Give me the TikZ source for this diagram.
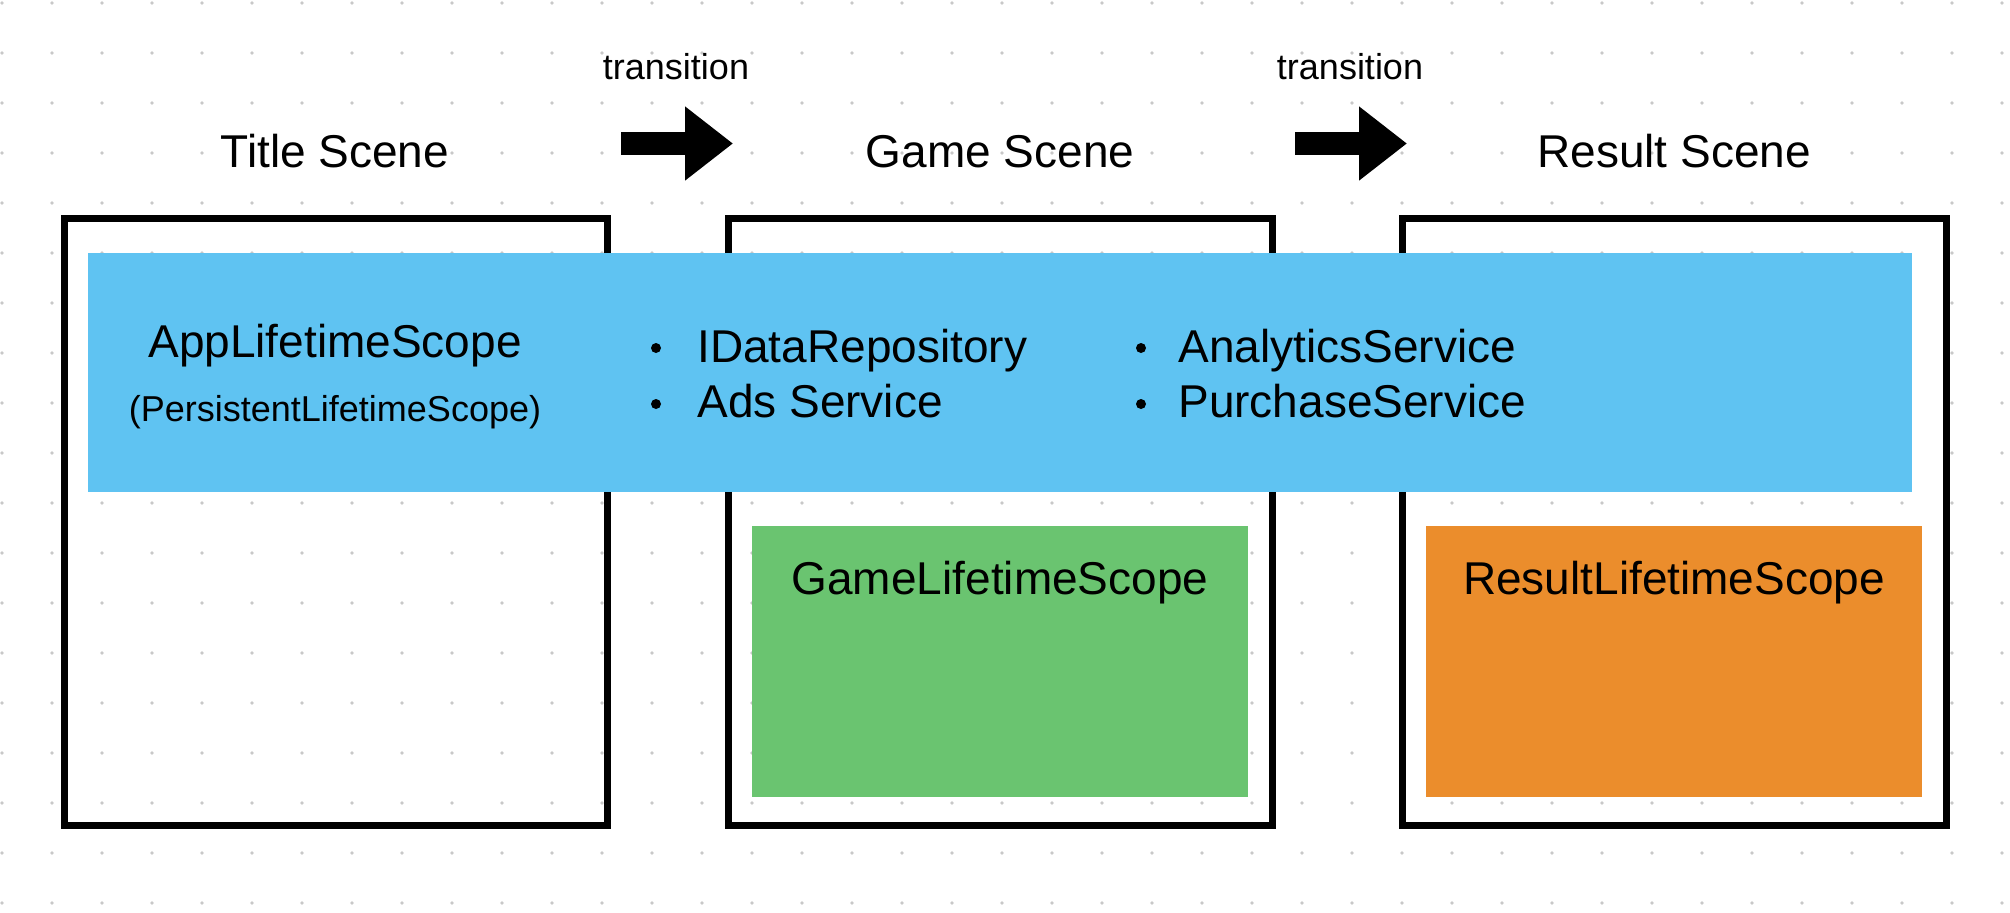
\documentclass[tikz,border=0pt]{standalone}
\usepackage{fontspec}
\setmainfont{Liberation Sans}
\usepackage{tikz}
\usetikzlibrary{arrows.meta}

\definecolor{appblue}{RGB}{95,195,242}
\definecolor{gamegreen}{RGB}{106,196,112}
\definecolor{resultorange}{RGB}{235,141,44}
\definecolor{griddot}{RGB}{200,200,200}

\tikzset{
    scenebox/.style={draw=black, line width=3.5pt},
    big/.style={inner sep=0pt, anchor=base, font=\fontsize{23}{27}\selectfont},
    small/.style={inner sep=0pt, anchor=base, font=\fontsize{18}{22}\selectfont},
    item/.style={big, anchor=base west},
    trans/.style={line width=11.5pt, -{Triangle[length=24pt,width=35.5pt]}},
}

\begin{document}
\begin{tikzpicture}[x=0.5pt,y=-0.5pt]
    \useasboundingbox (0,0) rectangle (2010,912);
    % dot grid
    \foreach \i in {0,...,40}
      \foreach \j in {0,...,18}
        \fill[griddot] (50*\i+2,50*\j+3) circle[radius=0.9pt];
    % scenes
    \draw[scenebox]    (64,218) rectangle (607,825);
    \draw[scenebox]    (728,218) rectangle (1272,825);
    \draw[scenebox]    (1402,218) rectangle (1946,825);
    \fill[appblue]     (88,253) rectangle (1912,492);
    \fill[gamegreen]   (752,526) rectangle (1248,797);
    \fill[resultorange] (1426,526) rectangle (1922,797);
    % titles
    \node[big] (title)  at (335,167)  {Title Scene};
    \node[big] (game)   at (1000,167) {Game Scene};
    \node[big] (result) at (1674,167) {Result Scene};
    % transitions
    \node[small] (trans1) at (676,79)  {transition};
    \node[small] (trans2) at (1350,79) {transition};
    \coordinate (a1s) at (621,143.5);
    \coordinate (a1e) at (733,143.5);
    \coordinate (a2s) at (1295,143.5);
    \coordinate (a2e) at (1407,143.5);
    \draw[trans] (a1s) -- (a1e);
    \draw[trans] (a2s) -- (a2e);
    % app scope
    \node[big]   (app)     at (335,357) {AppLifetimeScope};
    \node[small] (persist) at (335,421) {(PersistentLifetimeScope)};
    \node[item] (repo)      at (697,362)  {IDataRepository};
    \node[item] (ads)       at (697,417)  {Ads Service};
    \node[item] (analytics) at (1178,362) {AnalyticsService};
    \node[item] (purchase)  at (1178,417) {PurchaseService};
    \foreach \x in {656,1141}
      \foreach \y in {348,404}
        \fill (\x,\y) circle[radius=2.5pt];
    % child scopes
    \node[big] (gamescope)   at (1000,594) {GameLifetimeScope};
    \node[big] (resultscope) at (1674,594) {ResultLifetimeScope};
\end{tikzpicture}
\end{document}
